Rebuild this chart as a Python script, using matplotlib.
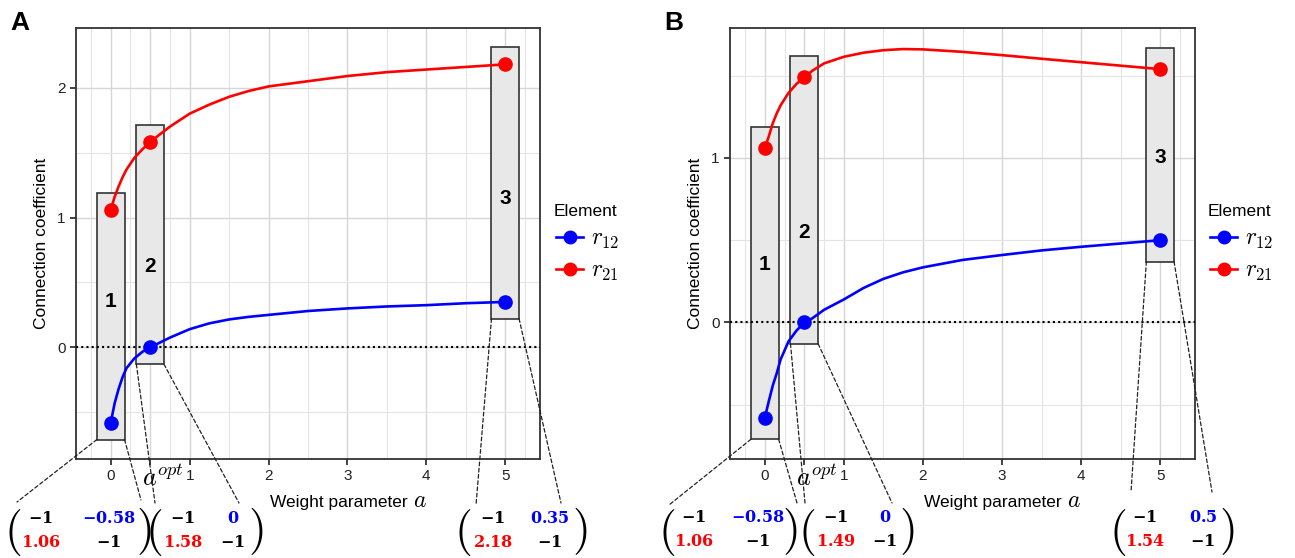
import matplotlib
matplotlib.use("Agg")
import matplotlib.pyplot as plt
from matplotlib.patches import Rectangle, ConnectionPatch
from matplotlib.lines import Line2D

plt.rcParams['font.family'] = ['Liberation Sans', 'DejaVu Sans']
plt.rcParams['mathtext.fontset'] = 'cm'

W, H = 1295, 558

# datos
a_opt = 0.5
puntos_x = [0, a_opt, 5]
r12_A = [-0.58, 0, 0.35]
r21_A = [1.06, 1.58, 2.18]
r12_B = [-0.58, 0, 0.5]
r21_B = [1.06, 1.49, 1.54]

curva_x = [0, 0.05, 0.1, 0.15, 0.2, 0.3, 0.4, 0.5, 0.6, 0.75, 1, 1.25, 1.5, 1.75,
           2, 2.5, 3, 3.5, 4, 4.5, 5]
curva_r21_A = [1.06, 1.16, 1.24, 1.31, 1.37, 1.46, 1.525, 1.58, 1.63, 1.70, 1.80, 1.87,
               1.93, 1.975, 2.01, 2.05, 2.09, 2.12, 2.14, 2.16, 2.18]
curva_r12_A = [-0.58, -0.43, -0.32, -0.23, -0.16, -0.085, -0.035, 0, 0.03, 0.075, 0.14,
               0.185, 0.215, 0.235, 0.25, 0.28, 0.30, 0.315, 0.325, 0.34, 0.35]
curva_r21_B = [1.06, 1.13, 1.21, 1.27, 1.32, 1.395, 1.45, 1.49, 1.53, 1.575, 1.615, 1.64,
               1.655, 1.662, 1.66, 1.645, 1.625, 1.603, 1.582, 1.561, 1.54]
curva_r12_B = [-0.58, -0.48, -0.385, -0.31, -0.225, -0.115, -0.05, 0, 0.025, 0.077, 0.14,
               0.21, 0.265, 0.305, 0.335, 0.38, 0.41, 0.438, 0.46, 0.48, 0.5]

etiquetas_caja = ['1', '2', '3']
y_etiquetas_A = [0.35, 0.62, 1.15]
y_etiquetas_B = [0.35, 0.545, 1.0]

AZUL = '#0000ff'
ROJO = '#ff0000'


def fpx(x, y):
    return (x / W, 1 - y / H)


def fmt(v):
    if v == int(v):
        return r'$\mathbf{%d}$' % v
    return r'$\mathbf{%s}$' % ('%.2f' % v).rstrip('0')


def dibujar_panel(fig, ax, letra, r12, r21, c12, c21, y_etq, yticks, ylim, x0, matrices, finales):
    ax.set_xlim(-0.44, 5.44)
    ax.set_ylim(*ylim)

    # rejilla
    ax.set_xticks([0, a_opt, 1, 2, 3, 4, 5])
    ax.set_xticks([-0.25, 0.25, 0.75, 1.5, 2.5, 3.5, 4.5, 5.25], minor=True)
    ax.set_yticks(yticks)
    ax.set_yticks([-0.5, 0.5, 1.5], minor=True)
    ax.grid(True, which='major', color='#d6d6d6', lw=1.0)
    ax.grid(True, which='minor', color='#e4e4e4', lw=0.8)
    ax.set_axisbelow(True)
    ax.set_xticklabels(['0', '', '1', '2', '3', '4', '5'])
    ax.tick_params(which='major', length=4, width=1.2, color='#222222', labelsize=11,
                   labelcolor='#222222')
    ax.tick_params(which='minor', length=0)
    for s in ax.spines.values():
        s.set_color('#333333')
        s.set_linewidth(1.3)

    ax.axhline(0, color='black', ls=(0, (1, 1.5)), lw=1.5, zorder=3)

    # cajas
    for i, x in enumerate(puntos_x):
        lo = min(r12[i], r21[i]) - 0.13
        hi = max(r12[i], r21[i]) + 0.13
        ax.add_patch(Rectangle((x - 0.175, lo), 0.35, hi - lo, facecolor='#e8e8e8',
                               edgecolor='#333333', lw=1.2, zorder=2))
        ax.text(x, y_etq[i], etiquetas_caja[i], fontsize=15, fontweight='bold',
                ha='center', va='center', zorder=4)
        for j, xc in enumerate([x - 0.175, x + 0.175]):
            cp = ConnectionPatch(xyA=(xc, lo), coordsA=ax.transData,
                                 xyB=fpx(*finales[i][j]), coordsB=fig.transFigure,
                                 ls=(0, (3, 2)), lw=0.9, color='#222222', zorder=1)
            fig.add_artist(cp)

    ax.plot(curva_x, c12, color=AZUL, lw=1.9, zorder=5, solid_capstyle='round')
    ax.plot(curva_x, c21, color=ROJO, lw=1.9, zorder=5, solid_capstyle='round')
    ax.plot(puntos_x, r12, 'o', color=AZUL, ms=9.5, zorder=6)
    ax.plot(puntos_x, r21, 'o', color=ROJO, ms=9.5, zorder=6)

    ax.annotate(r'$a^{opt}$', xy=(a_opt, 0), xycoords=('data', 'axes fraction'),
                xytext=(-6, -4), textcoords='offset points', ha='left', va='top',
                fontsize=19)

    ax.set_ylabel('Connection coefficient', fontsize=12.5, labelpad=6)
    fig.text(*fpx(x0 + 332, 507), 'Weight parameter', fontsize=12.5, ha='right',
             va='baseline')
    fig.text(*fpx(x0 + 337, 507), r'$a$', fontsize=17, ha='left', va='baseline')
    fig.text(*fpx(x0 - 66, 30), letra, fontsize=19, fontweight='bold', ha='left',
             va='baseline')

    # leyenda
    fig.text(*fpx(x0 + 478, 211), 'Element', fontsize=12.5, ha='left', va='center')
    handles = [Line2D([], [], color=AZUL, lw=1.9, marker='o', ms=9),
               Line2D([], [], color=ROJO, lw=1.9, marker='o', ms=9)]
    ax.legend(handles, [r'$r_{12}$', r'$r_{21}$'], loc='upper left',
              bbox_to_anchor=fpx(x0 + 480, 228), bbox_transform=fig.transFigure,
              frameon=False, fontsize=17, handlelength=1.15, handletextpad=0.35,
              labelspacing=0.4, borderaxespad=0, borderpad=0)

    # matrices
    for m, (px_l, c1, c2, px_r, fila1, fila2, vals) in enumerate(matrices):
        fig.text(*fpx(px_l, 532), r'$($', fontsize=33, ha='center', va='center')
        fig.text(*fpx(px_r, 532), r'$)$', fontsize=33, ha='center', va='center')
        v12, v21 = vals
        estilo = dict(fontsize=11.5, ha='center', va='center', math_fontfamily='dejavuserif')
        fig.text(*fpx(c1, fila1), fmt(-1), **estilo)
        fig.text(*fpx(c2, fila1), fmt(v12), color=AZUL, **estilo)
        fig.text(*fpx(c1, fila2), fmt(v21), color=ROJO, **estilo)
        fig.text(*fpx(c2, fila2), fmt(-1), **estilo)


fig = plt.figure(figsize=(W / 100, H / 100), dpi=100)
axA = fig.add_axes([76 / W, 99 / H, 464 / W, 431 / H])
axB = fig.add_axes([730 / W, 99 / H, 465 / W, 431 / H])

mat_A = [(13, 41, 109, 144, 518, 542, (r12_A[0], r21_A[0])),
         (154, 183, 233, 256, 518, 542, (r12_A[1], r21_A[1])),
         (463, 493, 550, 580, 518, 542, (r12_A[2], r21_A[2]))]
fin_A = [((17, 502), (141, 500)), ((155, 503), (239, 503)), ((476, 505), (561, 503))]

mat_B = [(667, 694, 758, 790, 517, 541, (r12_B[0], r21_B[0])),
         (807, 836, 885, 907, 517, 541, (r12_B[1], r21_B[1])),
         (1118, 1145, 1203, 1227, 517, 541, (r12_B[2], r21_B[2]))]
fin_B = [((669, 505), (797, 503)), ((805, 503), (892, 503)), ((1131, 492), (1212, 492))]

dibujar_panel(fig, axA, 'A', r12_A, r21_A, curva_r12_A, curva_r21_A, y_etiquetas_A,
              [0, 1, 2], (-0.86, 2.46), 76, mat_A, fin_A)
dibujar_panel(fig, axB, 'B', r12_B, r21_B, curva_r12_B, curva_r21_B, y_etiquetas_B,
              [0, 1], (-0.83, 1.79), 730, mat_B, fin_B)

fig.savefig('out.png', dpi=100)
